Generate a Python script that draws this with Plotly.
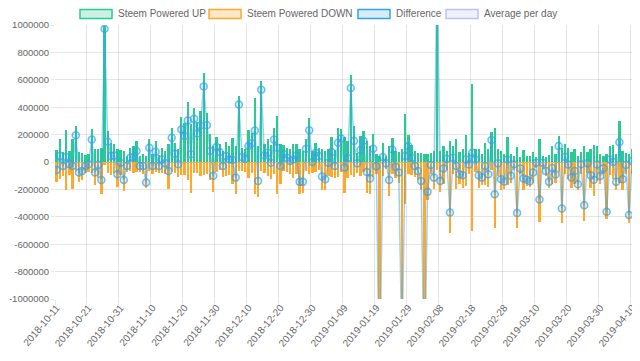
import pandas as pd
import plotly.graph_objects as go

# ---------------- data ----------------
start_date = "2018-10-11"
end_date = "2019-04-11"
missing_dates = ["2019-04-05"]
dates = [d.strftime("%Y-%m-%d") for d in pd.date_range(start_date, end_date) if d.strftime("%Y-%m-%d") not in missing_dates]

powered_up = [
    90000, 170000, 73000, 237000, 80000, 170000, 260000, 72000, 63000, 48000,
    55000, 242000, 92000, 92000, 104000, 995000, 225000, 140000, 128000, 92000,
    90000, 80000, 43000, 100000, 116000, 152000, 43000, 55000, 43000, 170000,
    60000, 150000, 50000, 100000, 80000, 135000, 250000, 140000, 92000, 330000,
    285000, 435000, 280000, 395000, 290000, 370000, 650000, 355000, 208000, 116000,
    180000, 135000, 80000, 148000, 116000, 177000, 116000, 484000, 104000, 97000,
    230000, 213000, 467000, 116000, 593000, 128000, 170000, 121000, 250000, 334000,
    128000, 121000, 104000, 92000, 133000, 133000, 92000, 80000, 165000, 322000,
    80000, 140000, 104000, 97000, 80000, 97000, 184000, 87000, 250000, 242000,
    184000, 150000, 637000, 261000, 68000, 189000, 225000, 152000, 116000, 208000,
    56000, 44000, 136000, 44000, 116000, 177000, 80000, 73000, 92000, 351000,
    200000, 123000, 80000, 68000, 68000, 56000, 56000, 68000, 80000, 1450000,
    80000, 116000, 80000, 152000, 116000, 170000, 73000, 92000, 196000, 68000,
    569000, 92000, 92000, 56000, 136000, 92000, 218000, 250000, 92000, 80000,
    56000, 184000, 56000, 44000, 111000, 40000, 85000, 44000, 44000, 75000,
    39000, 165000, 44000, 39000, 48000, 116000, 60000, 189000, 104000, 128000,
    104000, 73000, 97000, 44000, 73000, 116000, 73000, 92000, 121000, 116000,
    56000, 44000, 56000, 116000, 123000, 56000, 298000, 80000, 68000, 60000,
    97000, 56000,
]

powered_down = [
    -148000, -126000, -102000, -201000, -97000, -199000, -64000, -149000, -128000, -77000,
    -72000, -77000, -169000, -114000, -235000, -22000, -77000, -96000, -80000, -182000,
    -95000, -211000, -72000, -69000, -80000, -72000, -72000, -84000, -193000, -66000,
    -89000, -75000, -79000, -81000, -90000, -200000, -73000, -79000, -109000, -93000,
    -96000, -132000, -224000, -80000, -82000, -104000, -98000, -87000, -128000, -216000,
    -71000, -62000, -109000, -104000, -96000, -162000, -230000, -65000, -68000, -73000,
    -114000, -77000, -237000, -254000, -65000, -80000, -102000, -126000, -85000, -230000,
    -157000, -65000, -73000, -85000, -114000, -85000, -237000, -225000, -68000, -90000,
    -80000, -72000, -60000, -203000, -206000, -102000, -111000, -116000, -110000, -70000,
    -225000, -120000, -97000, -108000, -78000, -102000, -72000, -225000, -237000, -111000,
    -87000, -1800000, -100000, -54000, -247000, -85000, -114000, -150000, -1500000, -307000,
    -84000, -92000, -109000, -133000, -206000, -1700000, -274000, -90000, -194000, -60000,
    -218000, -164000, -56000, -520000, -85000, -199000, -163000, -189000, -177000, -87000,
    -501000, -73000, -189000, -170000, -165000, -182000, -58000, -485000, -102000, -206000,
    -199000, -165000, -156000, -61000, -484000, -88000, -206000, -174000, -184000, -152000,
    -44000, -438000, -49000, -104000, -193000, -160000, -152000, -73000, -443000, -89000,
    -123000, -187000, -162000, -206000, -90000, -431000, -83000, -189000, -251000, -135000,
    -158000, -90000, -419000, -97000, -123000, -201000, -153000, -206000, -90000, -447000,
    -90000, -133000,
]

# Difference series = powered up + powered down (down stored as negative values)
difference = [u + d for u, d in zip(powered_up, powered_down)]
average_per_day = []

y_tick_values = [1000000, 800000, 600000, 400000, 200000, 0, -200000, -400000, -600000, -800000, -1000000]
y_tick_labels = [str(v) for v in y_tick_values]
x_label_step = 10

series_names = ["Steem Powered UP", "Steem Powered DOWN", "Difference", "Average per day"]

# ---------------- styling ----------------
# the page body has an 8px default margin, so the figure is drawn 8px smaller / offset
BODY = 8
W, H = 640 - BODY, 361 - 2 * BODY
PLOT_LEFT, PLOT_RIGHT, PLOT_TOP, PLOT_BOTTOM = 55, 637, 25, 299   # page pixels
ML, MR, MT = PLOT_LEFT - BODY, BODY + W - PLOT_RIGHT, PLOT_TOP - BODY
PH = PLOT_BOTTOM - PLOT_TOP
MB = H - MT - PH
PW = W - ML - MR
FONT = "Liberation Sans, Arial, Helvetica, sans-serif"
TXT = "#666666"
GRID = "rgba(0,0,0,0.1)"

green = "rgb(40,204,146)"
orange = "rgb(255,168,42)"
blue = "rgb(54,162,235)"

idx = list(range(len(dates)))

fig = go.Figure()
fig.add_trace(go.Bar(x=idx, y=powered_up, name=series_names[0], width=0.72,
                     marker=dict(color=green, line=dict(width=0)), showlegend=False))
fig.add_trace(go.Bar(x=idx, y=powered_down, name=series_names[1], width=0.72,
                     marker=dict(color=orange, line=dict(width=0)), showlegend=False))
fig.add_trace(go.Scatter(x=idx, y=difference, name=series_names[2], mode="lines+markers",
                         line=dict(color="rgba(54,162,235,0.5)", width=1.5),
                         marker=dict(symbol="circle", size=7, color="rgba(54,162,235,0.18)",
                                     line=dict(color="rgba(54,162,235,0.7)", width=1.5)),
                         showlegend=False))
fig.add_trace(go.Scatter(x=idx[:len(average_per_day)], y=average_per_day, name=series_names[3],
                         mode="lines", line=dict(color="rgb(200,200,240)"), showlegend=False))

tick_idx = idx[::x_label_step]
fig.update_xaxes(
    range=[-0.5, len(dates) - 0.5], automargin=False,
    tickmode="array", tickvals=tick_idx, ticktext=[dates[i] for i in tick_idx],
    tickangle=-50, tickfont=dict(family=FONT, size=10, color=TXT),
    showgrid=False, ticks="", zeroline=False, showline=False,
    minor=dict(tick0=-0.5, dtick=x_label_step, showgrid=True, gridcolor=GRID, gridwidth=1,
               ticks="outside", ticklen=5, tickcolor=GRID),
)
fig.update_yaxes(
    range=[-1000000, 1000000], automargin=False,
    tickmode="array", tickvals=y_tick_values, ticktext=y_tick_labels,
    tickfont=dict(family=FONT, size=9.5, color=TXT),
    showgrid=True, gridcolor=GRID, gridwidth=1,
    ticks="outside", ticklen=3, tickcolor=GRID,
    zeroline=True, zerolinecolor="rgba(0,0,0,0.22)", zerolinewidth=1, showline=False,
)

# custom Chart.js-like legend (page pixel positions converted to paper coordinates)
def px_x(p):
    return (p - PLOT_LEFT) / PW

def px_y(p):
    return (PLOT_BOTTOM - p) / PH

legend_items = [
    (80, 112, "rgba(40,204,146,0.25)", green, series_names[0]),
    (209, 241, "rgba(255,168,42,0.25)", orange, series_names[1]),
    (358, 390, "rgba(54,162,235,0.2)", blue, series_names[2]),
    (446, 478, "rgba(153,153,255,0.15)", "rgba(190,190,240,1)", series_names[3]),
]
shapes, annotations = [], []
for x0, x1, fill, border, label in legend_items:
    shapes.append(dict(type="rect", xref="paper", yref="paper", x0=px_x(x0), x1=px_x(x1),
                       y0=px_y(18.5), y1=px_y(9.5), fillcolor=fill, line=dict(color=border, width=1.5)))
    annotations.append(dict(xref="paper", yref="paper", x=px_x(x1 + 4), y=px_y(14), text=label,
                            showarrow=False, xanchor="left", yanchor="middle",
                            font=dict(family=FONT, size=10, color=TXT)))

fig.update_layout(
    width=W, height=H, margin=dict(l=ML, r=MR, t=MT, b=MB, pad=0, autoexpand=False),
    barmode="relative", bargap=0, plot_bgcolor="white", paper_bgcolor="white",
    showlegend=False, shapes=shapes, annotations=annotations,
    font=dict(family=FONT, color=TXT),
)

fig.write_html("out.html")
